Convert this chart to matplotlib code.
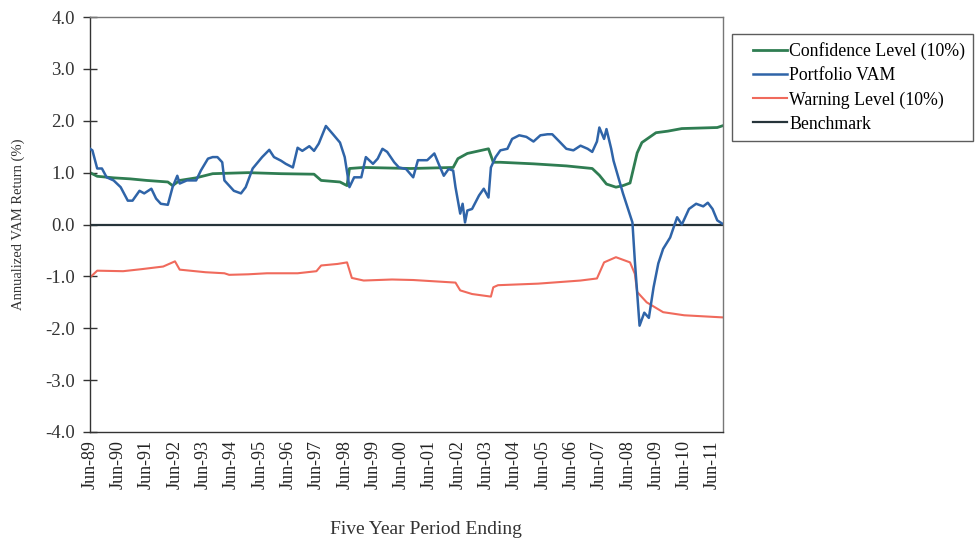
import matplotlib
matplotlib.use("Agg")
import matplotlib.pyplot as plt
import matplotlib.dates as mdates
import pandas as pd

plt.rcParams['font.family'] = ['Liberation Serif', 'DejaVu Serif']

# Portfolio VAM (monthly points)
vam_dates = ["1989-06", "1989-07", "1989-09", "1989-11", "1990-01", "1990-04", "1990-07",
             "1990-10", "1990-12", "1991-03", "1991-05", "1991-08", "1991-10", "1991-12",
             "1992-03", "1992-05", "1992-07", "1992-08", "1992-11", "1993-03", "1993-05",
             "1993-08", "1993-10", "1993-12", "1994-02", "1994-03", "1994-07", "1994-10",
             "1994-12", "1995-03", "1995-07", "1995-10", "1995-12", "1996-03", "1996-05",
             "1996-08", "1996-10", "1996-12", "1997-03", "1997-05", "1997-07", "1997-10",
             "1998-01", "1998-04", "1998-06", "1998-08", "1998-10", "1999-01", "1999-03",
             "1999-06", "1999-08", "1999-10", "1999-12", "2000-03", "2000-05", "2000-08",
             "2000-11", "2001-01", "2001-05", "2001-08", "2001-10", "2001-12", "2002-02",
             "2002-04", "2002-05", "2002-07", "2002-08", "2002-09", "2002-10", "2002-12",
             "2003-03", "2003-05", "2003-07", "2003-08", "2003-10", "2003-12", "2004-03",
             "2004-05", "2004-08", "2004-11", "2005-02", "2005-05", "2005-08", "2005-10",
             "2006-01", "2006-04", "2006-07", "2006-10", "2007-01", "2007-03", "2007-05",
             "2007-06", "2007-08", "2007-09", "2007-11", "2007-12", "2008-04", "2008-08",
             "2008-09", "2008-11", "2009-01", "2009-03", "2009-05", "2009-07", "2009-09",
             "2009-12", "2010-03", "2010-05", "2010-08", "2010-11", "2011-02", "2011-04",
             "2011-06", "2011-08", "2011-10"]
vam_values = [1.46, 1.43, 1.08, 1.08, 0.91, 0.85, 0.72,
              0.46, 0.46, 0.65, 0.60, 0.69, 0.50, 0.40,
              0.38, 0.72, 0.94, 0.79, 0.85, 0.85, 1.04,
              1.27, 1.30, 1.30, 1.20, 0.85, 0.65, 0.60,
              0.72, 1.08, 1.30, 1.44, 1.30, 1.23, 1.17,
              1.10, 1.48, 1.42, 1.51, 1.42, 1.56, 1.90,
              1.74, 1.58, 1.30, 0.72, 0.91, 0.91, 1.30,
              1.17, 1.27, 1.46, 1.40, 1.20, 1.10, 1.07,
              0.91, 1.24, 1.24, 1.37, 1.15, 0.94, 1.07,
              1.04, 0.72, 0.21, 0.40, 0.04, 0.27, 0.30,
              0.56, 0.69, 0.52, 1.10, 1.30, 1.43, 1.46,
              1.65, 1.72, 1.69, 1.60, 1.72, 1.74, 1.74,
              1.60, 1.46, 1.43, 1.52, 1.46, 1.40, 1.60,
              1.87, 1.65, 1.84, 1.46, 1.23, 0.60, 0.04,
              -0.70, -1.95, -1.70, -1.80, -1.21, -0.75, -0.47,
              -0.25, 0.14, 0.00, 0.30, 0.40, 0.35, 0.42,
              0.30, 0.08, 0.02]

# Confidence Level (10%)
conf_dates = ["1989-06", "1989-09", "1990-04", "1990-11", "1991-06", "1992-03", "1992-05",
              "1992-08", "1993-03", "1993-10", "1995-01", "1996-03", "1997-05", "1997-08",
              "1998-04", "1998-07", "1998-08", "1999-02", "2000-10", "2002-04", "2002-06",
              "2002-10", "2003-07", "2003-09", "2003-12", "2005-02", "2006-04", "2007-03",
              "2007-06", "2007-09", "2008-01", "2008-04", "2008-07", "2008-10", "2008-12",
              "2009-06", "2009-11", "2010-05", "2011-08", "2011-10"]
conf_values = [1.00, 0.93, 0.90, 0.88, 0.85, 0.82, 0.75,
               0.85, 0.90, 0.98, 1.00, 0.98, 0.97, 0.85,
               0.82, 0.75, 1.08, 1.10, 1.08, 1.10, 1.27,
               1.37, 1.46, 1.20, 1.20, 1.17, 1.13, 1.08,
               0.95, 0.78, 0.72, 0.75, 0.80, 1.38, 1.58,
               1.77, 1.80, 1.85, 1.87, 1.90]

# Warning Level (10%)
warn_dates = ["1989-06", "1989-09", "1990-08", "1991-04", "1992-01", "1992-06", "1992-08",
              "1993-07", "1994-03", "1994-05", "1995-01", "1995-09", "1996-10", "1997-06",
              "1997-08", "1998-03", "1998-07", "1998-09", "1999-02", "2000-02", "2000-11",
              "2002-05", "2002-07", "2002-12", "2003-08", "2003-09", "2003-11", "2005-04",
              "2006-10", "2007-05", "2007-08", "2008-01", "2008-07", "2008-09", "2008-10",
              "2009-02", "2009-09", "2010-06", "2011-10"]
warn_values = [-1.02, -0.89, -0.90, -0.86, -0.81, -0.71, -0.87,
               -0.92, -0.94, -0.97, -0.96, -0.94, -0.94, -0.90,
               -0.79, -0.76, -0.73, -1.03, -1.08, -1.06, -1.07,
               -1.12, -1.27, -1.34, -1.39, -1.21, -1.17, -1.14,
               -1.08, -1.04, -0.73, -0.63, -0.73, -0.95, -1.30,
               -1.50, -1.69, -1.75, -1.79]

bench_dates = ["1989-06", "2011-10"]
bench_values = [0.0, 0.0]

tick_years = list(range(1989, 2012))
y_ticks = [-4, -3, -2, -1, 0, 1, 2, 3, 4]

fig = plt.figure(figsize=(9.79, 5.41), dpi=100)
ax = fig.add_axes([0.092, 0.2015, 0.6465, 0.767])

l_conf, = ax.plot(pd.to_datetime(conf_dates), conf_values, color='#2f7d52', lw=2.0,
                  label='Confidence Level (10%)')
l_vam, = ax.plot(pd.to_datetime(vam_dates), vam_values, color='#2f64a8', lw=1.8,
                 label='Portfolio VAM')
l_warn, = ax.plot(pd.to_datetime(warn_dates), warn_values, color='#f06a5c', lw=1.5,
                  label='Warning Level (10%)')
l_bench, = ax.plot(pd.to_datetime(bench_dates), bench_values, color='#26343a', lw=1.6,
                   label='Benchmark')
# keep the VAM line on top of the others
l_vam.set_zorder(4)

ax.set_ylim(-4.0, 4.0)
ax.set_yticks(y_ticks)
ax.set_yticklabels(['%.1f' % v for v in y_ticks], fontsize=13.5, color='#333333')
ax.set_xlim(pd.Timestamp("1989-06-01"), pd.Timestamp("2011-10-14"))
ax.set_xticks([pd.Timestamp(f"{y}-06-01") for y in tick_years])
ax.xaxis.set_major_formatter(mdates.DateFormatter('%b-%y'))
plt.setp(ax.get_xticklabels(), rotation=90, fontsize=13, color='#222222')

ax.tick_params(axis='y', direction='inout', length=10, width=1, color='#333333', pad=6)
ax.tick_params(axis='x', length=0, pad=6)

ax.spines['left'].set_color('#333333')
ax.spines['bottom'].set_color('#333333')
ax.spines['top'].set_color('#777777')
ax.spines['right'].set_color('#777777')
for s in ax.spines.values():
    s.set_linewidth(1.0)

fig.text(0.019, 0.5853, 'Annualized VAM Return (%)', rotation=90, ha='center', va='center',
         fontsize=10.5, color='#333333')
fig.text(0.435, 0.013, 'Five Year Period Ending', ha='center', fontsize=14, color='#333333')

leg = fig.legend(handles=[l_conf, l_vam, l_warn, l_bench], loc='upper left',
                 bbox_to_anchor=(0.748, 0.937), fontsize=12.8, frameon=True, fancybox=False,
                 handlelength=2.6, handletextpad=0.15, borderpad=0.45, labelspacing=0.4,
                 borderaxespad=0)
leg.get_frame().set_edgecolor('#333333')
leg.get_frame().set_linewidth(1.0)
# legend sample lines start further in from the frame, as in the original
for ln in leg.get_lines():
    xd = list(ln.get_xdata())
    yd = list(ln.get_ydata())
    ln.set_data([xd[0] + 9, xd[-1]], [yd[0], yd[-1]])

fig.savefig('out.png', dpi=100)
